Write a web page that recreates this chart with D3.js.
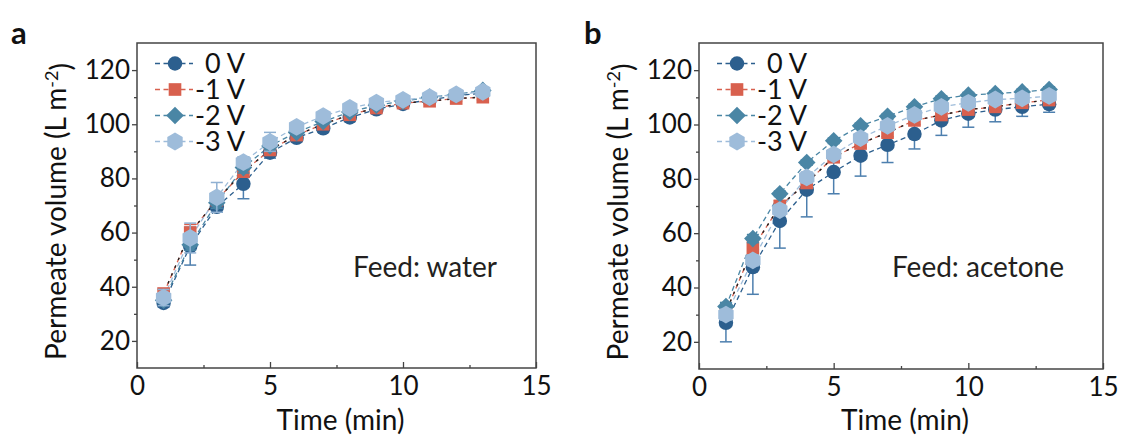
<!DOCTYPE html>
<html>
<head>
<meta charset="utf-8">
<script src="https://cdn.jsdelivr.net/npm/d3@7"></script>
<style>
  body { margin: 0; background: #fff; }
  text { font-family: Lato, "Open Sans", sans-serif; fill: #111; }
</style>
</head>
<body>
<svg id="chart" width="1123" height="440"></svg>
<script>
// Datos
const times = [1, 2, 3, 4, 5, 6, 7, 8, 9, 10, 11, 12, 13];
const seriesNames = ['0 V', '-1 V', '-2 V', '-3 V'];
const seriesColors = ['#2c5f8e', '#d8604e', '#4a86a5', '#9ebcda'];
const errorColors = ['#4d7fae', '#d8604e', '#4a86a5', '#8fb0d2'];
const seriesSymbols = ['circle', 'square', 'diamond', 'hexagon'];
const xTicks = [0, 5, 10, 15];
const yTicks = [20, 40, 60, 80, 100, 120];

// Feed: water
const water0V = [34, 55, 69.5, 78, 89.5, 95, 98.5, 102.5, 105.5, 107.5, 109, 110.5, 111.5];
const water0VErr = [1.5, 7, 2, 5.5, 2, 1.5, 1.5, 1.5, 1, 1, 1, 1, 1];
const water1V = [37.5, 60, 72, 82.5, 90.5, 96, 100, 103.5, 106, 107.8, 108.5, 109.5, 110];
const water1VErr = [1.5, 3, 2, 2, 1.5, 1.5, 1, 1, 1, 1, 1, 1, 1];
const water2V = [35, 55.5, 71, 84, 92, 97, 101, 104.5, 107, 108.5, 110, 111, 112.5];
const water2VErr = [1, 2, 2, 2, 1.5, 1, 1, 1, 1, 1, 1, 1, 1];
const water3V = [36, 58, 73, 86, 93.5, 99, 103, 106, 108, 109, 110, 111, 112];
const water3VErr = [3, 5.5, 5.5, 2, 3.5, 1.5, 1.5, 1, 1, 1, 1, 1, 1];

// Feed: acetone
const acetone0V = [27, 47.5, 64.5, 76, 82.5, 88.5, 92.5, 96.5, 101.5, 104, 105.5, 106.5, 107.5];
const acetone0VErr = [7, 10, 10, 10, 8, 7.5, 6.5, 5.5, 5.5, 5, 4.5, 3.5, 3];
const acetone1V = [31, 54.5, 70, 78.5, 88, 93, 97, 101.5, 103.5, 105.5, 106.5, 108, 109];
const acetone1VErr = [2, 2.5, 2, 2, 2, 1.5, 1.5, 1.5, 1, 1, 1, 1, 1];
const acetone2V = [33, 58, 74.5, 86, 94, 99.5, 103, 106.5, 109.5, 110.8, 111.4, 112, 112.9];
const acetone2VErr = [1.5, 1.5, 1, 1, 1, 1, 1, 1, 1, 1, 1, 1, 1];
const acetone3V = [30, 50, 68.5, 80.5, 89, 95, 99.5, 103.5, 106.5, 108, 109.2, 109.6, 110.5];
const acetone3VErr = [2, 2, 2, 2, 1.5, 1.5, 1.5, 1, 1, 1, 1, 1, 1];

const svg = d3.select('#chart');

// Hexágono con punta arriba
const symbolHexagon = {
    draw(context, size) {
        const r = Math.sqrt(size / (1.5 * Math.sqrt(3)));
        for (let i = 0; i < 6; i++) {
            const a = -Math.PI / 2 + i * Math.PI / 3;
            const px = r * Math.cos(a), py = r * Math.sin(a);
            if (i === 0) context.moveTo(px, py); else context.lineTo(px, py);
        }
        context.closePath();
    }
};

function markerPath(kind) {
    if (kind === 'circle') return d3.symbol(d3.symbolCircle, 165)();
    if (kind === 'square') return d3.symbol(d3.symbolSquare, 160)();
    if (kind === 'diamond') return d3.symbol(d3.symbolSquare, 155)();
    return d3.symbol(symbolHexagon, 205)();
}

function markerTransform(kind, x, y) {
    return kind === 'diamond' ? `translate(${x},${y}) rotate(45)` : `translate(${x},${y})`;
}

function drawPanel(opts) {
    const { left, right, top, bottom, letter, feed, values, errors } = opts;
    const g = svg.append('g');

    const x = d3.scaleLinear().domain([0, 15]).range([left, right]);
    const y = d3.scaleLinear().domain([10, 130]).range([bottom, top]);

    // Ejes
    g.append('g')
        .attr('transform', `translate(0,${bottom})`)
        .call(d3.axisBottom(x).tickValues(xTicks).tickSize(-6).tickPadding(9));
    g.append('g')
        .attr('transform', `translate(0,${bottom})`)
        .call(d3.axisBottom(x).tickValues([2.5, 7.5, 12.5]).tickSize(-3).tickFormat(''));
    g.append('g')
        .attr('transform', `translate(${left},0)`)
        .call(d3.axisLeft(y).tickValues(yTicks).tickSize(5).tickPadding(2));
    g.append('g')
        .attr('transform', `translate(${left},0)`)
        .call(d3.axisLeft(y).tickValues([30, 50, 70, 90, 110]).tickSize(3).tickFormat(''));

    g.selectAll('.domain').remove();
    g.selectAll('.tick line').attr('stroke', '#444').attr('stroke-width', 1.3);
    g.selectAll('.tick text').style('font-size', '26px').attr('fill', '#111');

    g.append('rect')
        .attr('x', left).attr('y', top)
        .attr('width', right - left).attr('height', bottom - top)
        .attr('fill', 'none').attr('stroke', '#444').attr('stroke-width', 1.5);

    // Líneas discontinuas
    const line = d3.line().x((d, i) => x(times[i])).y(d => y(d));
    values.forEach((vals, s) => {
        g.append('path')
            .attr('d', line(vals))
            .attr('fill', 'none')
            .attr('stroke', seriesColors[s])
            .attr('stroke-width', 1.3)
            .attr('stroke-dasharray', '5,3.5');
    });
    // tramo negro intercalado sobre la línea de -1 V
    g.append('path')
        .attr('d', line(values[1]))
        .attr('fill', 'none')
        .attr('stroke', '#222')
        .attr('stroke-width', 1.4)
        .attr('stroke-dasharray', '2.5,6')
        .attr('stroke-dashoffset', -2.5);

    // Barras de error y marcadores
    values.forEach((vals, s) => {
        const sg = g.append('g');
        vals.forEach((v, i) => {
            const cx = x(times[i]);
            const e = errors[s][i];
            const y0 = y(v - e), y1 = y(v + e);
            sg.append('line').attr('x1', cx).attr('x2', cx).attr('y1', y0).attr('y2', y1)
                .attr('stroke', errorColors[s]).attr('stroke-width', 1.5);
            [y0, y1].forEach(yy => {
                sg.append('line').attr('x1', cx - 6).attr('x2', cx + 6).attr('y1', yy).attr('y2', yy)
                    .attr('stroke', errorColors[s]).attr('stroke-width', 1.5);
            });
        });
        sg.selectAll('path.marker')
            .data(vals)
            .enter().append('path')
            .attr('class', 'marker')
            .attr('d', markerPath(seriesSymbols[s]))
            .attr('transform', (d, i) => markerTransform(seriesSymbols[s], x(times[i]), y(d)))
            .attr('fill', seriesColors[s]);
    });

    // Leyenda
    seriesNames.forEach((name, s) => {
        const ly = top + 20.5 + s * 26;
        g.append('line')
            .attr('x1', left + 18).attr('x2', left + 56)
            .attr('y1', ly).attr('y2', ly)
            .attr('stroke', seriesColors[s]).attr('stroke-width', 1.3)
            .attr('stroke-dasharray', '5,3.5');
        g.append('path')
            .attr('d', markerPath(seriesSymbols[s]))
            .attr('transform', markerTransform(seriesSymbols[s], left + 38, ly))
            .attr('fill', seriesColors[s]);
        g.append('text')
            .attr('x', left + 108).attr('y', ly)
            .attr('dy', '0.36em')
            .attr('text-anchor', 'end')
            .style('font-size', '27px')
            .text(name);
    });

    // Textos
    g.append('text')
        .attr('x', right - 39).attr('y', 277)
        .attr('text-anchor', 'end')
        .style('font-size', '28px')
        .style('fill', '#231f20')
        .text(feed);

    g.append('text')
        .attr('x', (left + right) / 2 + 4).attr('y', 430)
        .attr('text-anchor', 'middle')
        .style('font-size', '28px')
        .text('Time (min)');

    const yl = g.append('text')
        .attr('transform', `translate(${left - 71},${(top + bottom) / 2 + 6}) rotate(-90)`)
        .attr('text-anchor', 'middle')
        .style('font-size', '28px');
    yl.append('tspan').text('Permeate volume (L m');
    yl.append('tspan').attr('dy', '-0.45em').style('font-size', '18px').text('-2');
    yl.append('tspan').attr('dy', '0.45em').text(')');

    g.append('text')
        .attr('x', letter.x).attr('y', 44)
        .style('font-size', '31px')
        .style('font-weight', 'bold')
        .text(letter.text);
}

drawPanel({
    left: 137, right: 536, top: 43, bottom: 368,
    letter: { text: 'a', x: 11 },
    feed: 'Feed: water',
    values: [water0V, water1V, water2V, water3V],
    errors: [water0VErr, water1VErr, water2VErr, water3VErr]
});

drawPanel({
    left: 699, right: 1103, top: 43, bottom: 369,
    letter: { text: 'b', x: 584 },
    feed: 'Feed: acetone',
    values: [acetone0V, acetone1V, acetone2V, acetone3V],
    errors: [acetone0VErr, acetone1VErr, acetone2VErr, acetone3VErr]
});
</script>
</body>
</html>
